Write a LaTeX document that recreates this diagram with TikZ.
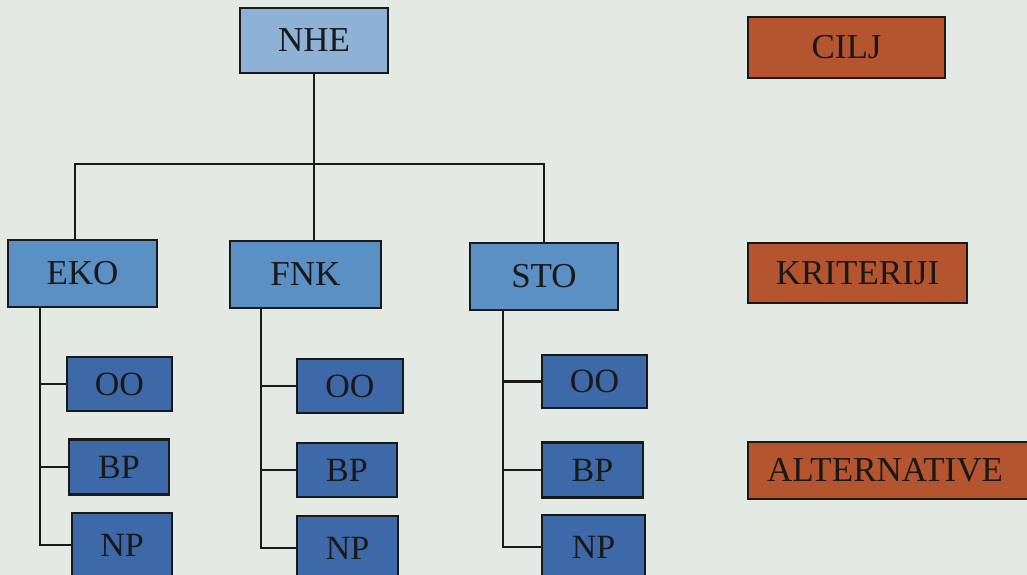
\documentclass[tikz,border=0pt]{standalone}
\usepackage{fontspec}
\setmainfont{Liberation Serif}
\begin{document}
\begin{tikzpicture}[x=1pt,y=-1pt,
  box/.style={draw=black!90, line width=2.5pt, rectangle, inner sep=0pt,
    text=black!90, font=\fontsize{35}{35}\selectfont},
  root/.style={box, fill=rootblue},
  crit/.style={box, fill=critblue},
  leaf/.style={box, fill=leafblue, font=\fontsize{34}{34}\selectfont},
  legend/.style={box, fill=legendbrown},
  link/.style={draw=black!90, line width=2.5pt}]
\definecolor{rootblue}{HTML}{8DB2D5}
\definecolor{critblue}{HTML}{5A90C4}
\definecolor{leafblue}{HTML}{3D69A9}
\definecolor{legendbrown}{HTML}{B4552F}
\definecolor{paper}{HTML}{E3E9E3}

\clip (0,0) rectangle (1027,575);
\fill[paper] (0,0) rectangle (1027,575);

% goal and criteria
\node[root, minimum width=148pt, minimum height=65pt] (NHE) at (314,40.5) {NHE};
\node[crit, minimum width=149pt, minimum height=67pt] (EKO) at (82.5,273.5) {EKO};
\node[crit, minimum width=151pt, minimum height=67pt] (FNK) at (305.5,274.5) {FNK};
\node[crit, minimum width=148pt, minimum height=67pt] (STO) at (544,276.5) {STO};

% alternatives under EKO
\node[leaf, minimum width=105pt, minimum height=54pt] (OO1) at (119.5,384) {OO};
\node[leaf, minimum width=100pt, minimum height=55pt] (BP1) at (119,467) {BP};
\node[leaf, minimum width=100pt, minimum height=64pt] (NP1) at (122,545) {NP};

% alternatives under FNK
\node[leaf, minimum width=106pt, minimum height=54pt] (OO2) at (350,386) {OO};
\node[leaf, minimum width=100pt, minimum height=54pt] (BP2) at (347,470) {BP};
\node[leaf, minimum width=101pt, minimum height=64pt] (NP2) at (347.5,548) {NP};

% alternatives under STO
\node[leaf, minimum width=105pt, minimum height=53pt] (OO3) at (594.5,381.5) {OO};
\node[leaf, minimum width=101pt, minimum height=55pt] (BP3) at (592.5,470) {BP};
\node[leaf, minimum width=103pt, minimum height=64pt] (NP3) at (593.5,547) {NP};

% legend
\node[legend, minimum width=197pt, minimum height=61pt] (CILJ) at (846.5,47.5) {CILJ};
\node[legend, minimum width=219pt, minimum height=60pt] (KRIT) at (857.5,273) {KRITERIJI};
\node[legend, minimum width=292pt, minimum height=57pt, text width=272pt, align=left] (ALT) at (894,470.5) {\hspace*{9pt}ALTERNATIVE};

% connectors from the goal to the criteria
\coordinate (bus) at (314,164);
\draw[link] (NHE.south) -- (NHE.south |- FNK.north);
\draw[link] ([xshift=-7.5pt]EKO.north) |- (bus) -| (STO.north);

% trunks from each criterion to its alternatives
\coordinate (t1) at ([xshift=33pt]EKO.south west);
\coordinate (t2) at ([xshift=32pt]FNK.south west);
\coordinate (t3) at ([xshift=34pt]STO.south west);
\foreach \t/\i in {t1/1,t2/2,t3/3}{
  \draw[link] (\t) |- (NP\i.west);
  \draw[link] (OO\i.west) -- (OO\i.west -| \t);
  \draw[link] (BP\i.west) -- (BP\i.west -| \t);
}
\end{tikzpicture}
\end{document}
